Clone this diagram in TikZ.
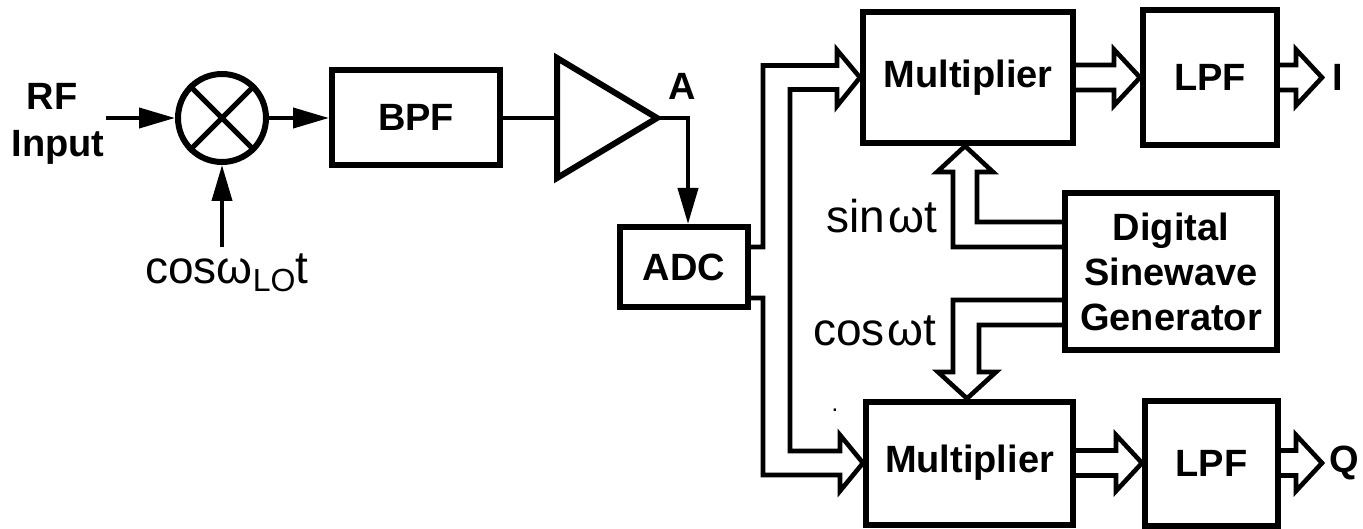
\documentclass[tikz,border=0pt]{standalone}
\usepackage{fontspec}
\setmainfont{Liberation Sans}
\usetikzlibrary{arrows.meta,calc}
\newcommand\blbl{\fontsize{19}{22.5}\selectfont\bfseries}
\newcommand\rlbl{\fontsize{23}{27}\selectfont}
% hollow right-pointing block arrow: #1 start point, #2 tip point
\newcommand\hollowR[2]{%
  \draw[hollow] ($(#1)+(0,-12.5)$) -- ($(#2)+(-26,-12.5)$) -- ($(#2)+(-26,-28)$)
    -- (#2) -- ($(#2)+(-26,28)$) -- ($(#2)+(-26,12.5)$) -- ($(#1)+(0,12.5)$);}
\begin{document}
\begin{tikzpicture}[x=0.5pt,y=-0.5pt,
  box/.style={draw, line width=3pt, inner sep=0pt, font=\blbl, align=center},
  thinln/.style={line width=2pt},
  arr/.style={line width=2pt, -{Triangle[length=18pt,width=10pt]}},
  hollow/.style={line width=2.3pt, line join=miter},
  lbl/.style={font=\blbl, inner sep=0pt},
  rlab/.style={font=\rlbl, inner sep=0pt}]
\useasboundingbox[fill=white] (0,0) rectangle (1363,529);

% input side
\node[lbl, anchor=base] (rf) at (52,110) {RF};
\node[lbl, anchor=base] (input) at (58,157) {Input};
\node[draw, circle, line width=3pt, inner sep=0pt, minimum size=44pt] (mix) at (222,118) {};
\draw[line width=2.6pt] (mix.north west) -- (mix.south east) (mix.north east) -- (mix.south west);
\coordinate (rfin) at (106,118);
\draw[arr] (rfin) -- (mix.west);
\coordinate (lo) at (222,247);
\draw[arr] (lo) -- (mix.south);
\node[rlab, anchor=base west] (lol) at (145,283) {cosω\raisebox{-4pt}{\fontsize{16}{18}\selectfont LO}t};

\node[box, minimum width=84pt, minimum height=47.5pt] (bpf) at (416,117.5) {BPF};
\draw[arr] (mix.east) -- (mix.east -| bpf.west);

% amplifier
\coordinate (ampin) at (557,118);
\coordinate (amptip) at (657,118);
\draw[line width=3pt, line join=miter] (557,58) -- (amptip) -- (557,178) -- cycle;
\draw[thinln] (bpf.east |- ampin) -- (ampin);
\node[lbl] (A) at (682,86) {A};

\node[box, minimum width=64pt, minimum height=40pt] (adc) at (684,267) {ADC};
\draw[arr] (amptip) -| ($(adc.north)+(4,0)$);

% multipliers, filters, generator
\node[box, minimum width=105pt, minimum height=65.5pt] (mul1) at (968,77.5) {Multiplier};
\node[box, minimum width=103.5pt, minimum height=61.5pt] (mul2) at (969.5,463) {Multiplier};
\node[box, minimum width=67pt, minimum height=67.5pt] (lpf1) at (1210,77.5) {LPF};
\node[box, minimum width=66.5pt, minimum height=62.5pt] (lpf2) at (1211.5,463) {LPF};
\node[box, minimum width=106pt, minimum height=78.5pt] (gen) at (1171,271.5) {Digital\\Sinewave\\Generator};

% ADC to both multipliers
\draw[hollow] ($(adc.east)+(0,-20)$) -- (763,247) -- (763,65.5) -- (837,65.5) -- (837,50)
  -- (mul1.west) -- (837,106) -- (837,89.5) -- (790,89.5) -- (790,451) -- (840,451)
  -- (840,435) -- (mul2.west) -- (840,491) -- (840,475) -- (763,475) -- (763,298)
  -- ($(adc.east)+(0,31)$);

% generator to multipliers
\draw[hollow] ($(gen.west)+(0,-49.5)$) -- (977,222) -- (977,172) -- (993,172)
  -- ($(mul1.south)+(-3,0)$) -- (937,172) -- (953,172) -- (953,247) -- ($(gen.west)+(0,-24.5)$);
\draw[hollow] ($(gen.west)+(0,28.5)$) -- (953,300) -- (953,372) -- (938,372)
  -- ($(mul2.north)+(-2.5,0)$) -- (996,372) -- (979,372) -- (979,325) -- ($(gen.west)+(0,53.5)$);
\node[rlab, anchor=base] (sinl) at (882,232) {sin\kern1.5ptωt};
\node[rlab, anchor=base] (cosl) at (875,345) {cos\kern1.5ptωt};
\node[inner sep=0pt, font=\fontsize{12}{14}\selectfont] (dot) at (835,410) {.};

% multiplier to filter, filter to outputs
\hollowR{mul1.east}{lpf1.west}
\hollowR{mul2.east}{mul2.east -| lpf2.west}
\coordinate (Itip) at (1322,77.5);
\coordinate (Qtip) at (1322,463);
\hollowR{lpf1.east}{Itip}
\hollowR{lpf2.east}{Qtip}
\node[lbl, anchor=west] (I) at (1332,77.5) {I};
\node[lbl, anchor=west] (Q) at (1329,463) {Q};
\end{tikzpicture}
\end{document}
